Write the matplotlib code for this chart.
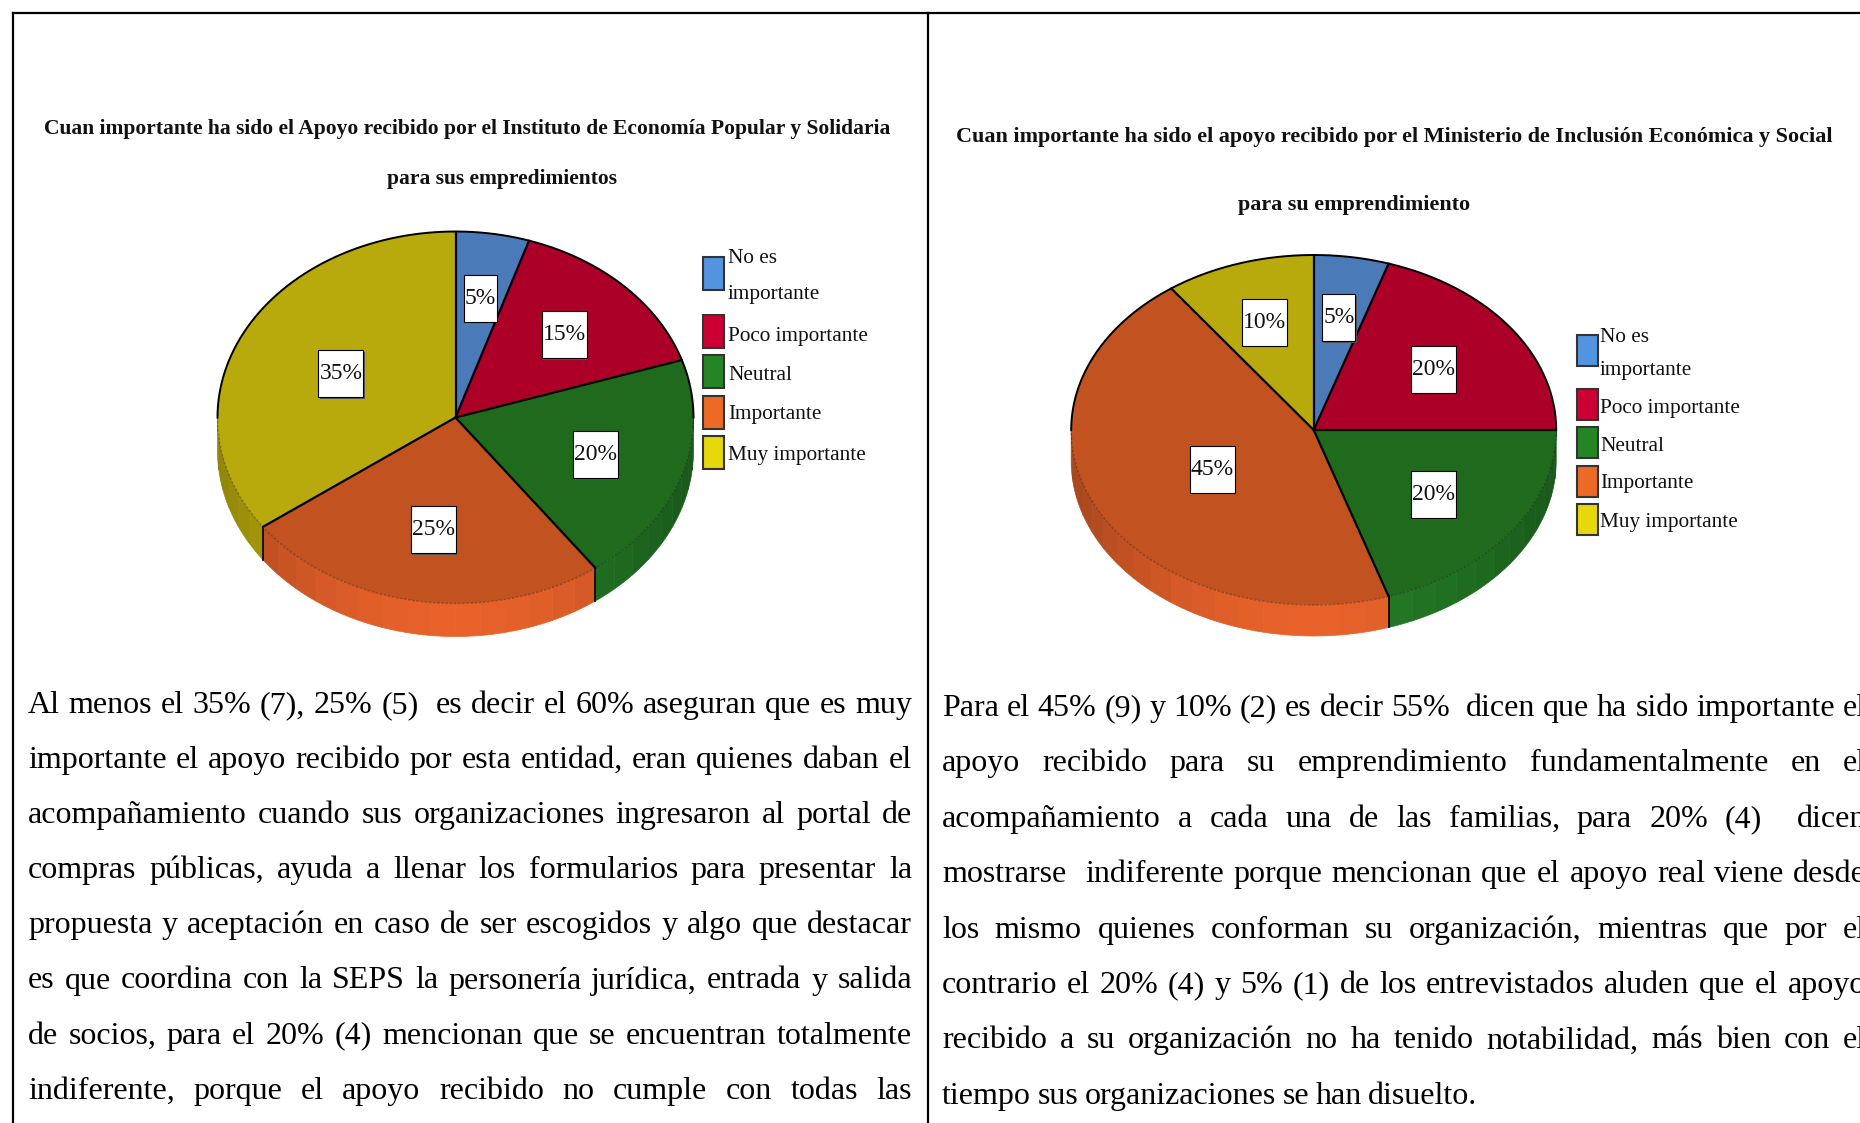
import numpy as np
import matplotlib
matplotlib.use('Agg')
import matplotlib.pyplot as plt
from matplotlib.patches import Rectangle, Polygon

W, H = 1860, 1123

categories = ['No es\nimportante', 'Poco importante', 'Neutral', 'Importante', 'Muy importante']
values_left = [5, 15, 20, 25, 35]
values_right = [5, 20, 20, 45, 10]

title_left = ['Cuan importante ha sido el Apoyo recibido por el Instituto de Economía Popular y Solidaria',
              'para sus empredimientos']
title_right = ['Cuan importante ha sido el apoyo recibido por el Ministerio de Inclusión Económica y Social',
               'para su emprendimiento']

text_left = ['Al menos el 35% (7), 25% (5)  es decir el 60% aseguran que es muy',
             'importante el apoyo recibido por esta entidad, eran quienes daban el',
             'acompañamiento cuando sus organizaciones ingresaron al portal de',
             'compras públicas, ayuda a llenar los formularios para presentar la',
             'propuesta y aceptación en caso de ser escogidos y algo que destacar',
             'es que coordina con la SEPS la personería jurídica, entrada y salida',
             'de socios, para el 20% (4) mencionan que se encuentran totalmente',
             'indiferente, porque el apoyo recibido no cumple con todas las']
text_right = ['Para el 45% (9) y 10% (2) es decir 55%  dicen que ha sido importante el',
              'apoyo recibido para su emprendimiento fundamentalmente en el',
              'acompañamiento a cada una de las familias, para 20% (4)  dicen',
              'mostrarse  indiferente porque mencionan que el apoyo real viene desde',
              'los mismo quienes conforman su organización, mientras que por el',
              'contrario el 20% (4) y 5% (1) de los entrevistados aluden que el apoyo',
              'recibido a su organización no ha tenido notabilidad, más bien con el',
              'tiempo sus organizaciones se han disuelto.']

face_colors = ['#4a7ab8', '#ad0028', '#206a1e', '#c25220', '#b8a90c']
swatch_colors = ['#5294e0', '#cc0033', '#258525', '#ec6a26', '#e6d80a']
side_colors = ['#4a7ab8', '#ad0028', '#237a25', '#e8622a', '#c8b80c']

SERIF = 'Liberation Serif'


def draw_pie(fig, ax_main, values, label_radius, cx, cy, rx, ry, depth):
    ax = fig.add_axes([(cx - 1.25 * rx) / W, 1 - (cy + 1.5 * ry) / H, 2.5 * rx / W, 2.75 * ry / H])
    ax.patch.set_visible(False)
    d = depth / ry
    bounds = np.cumsum([0] + values) * 3.6

    # side wall, cut in strips so the light can change round the rim
    for i in range(len(values)):
        t0, t1 = max(bounds[i], 90), min(bounds[i + 1], 270)
        if t1 <= t0:
            continue
        edges = np.arange(t0, t1, 6).tolist() + [t1]
        for a, b in zip(edges[:-1], edges[1:]):
            tt = np.radians(np.linspace(a, b, 5))
            f = 0.72 + 0.28 * np.cos(np.radians((a + b) / 2 - 180)) ** 2
            rgb = np.array(matplotlib.colors.to_rgb(side_colors[i])) * f
            xs = np.sin(tt)
            ys = np.cos(tt)
            pts = np.r_[np.c_[xs, ys], np.c_[xs[::-1], ys[::-1] - d]]
            ax.add_patch(Polygon(pts, closed=True, fc=rgb, ec=rgb, lw=0.5, zorder=0.5))

    wedges, _, autotexts = ax.pie(values, colors=face_colors, startangle=90, counterclock=False,
                                  autopct=lambda p: f'{round(p)}%', pctdistance=0.66,
                                  wedgeprops={'edgecolor': 'none', 'linewidth': 0},
                                  textprops={'family': SERIF, 'fontsize': 17, 'color': '#111111'})
    ax.set_aspect('auto')
    ax.set_xlim(-1.25, 1.25)
    ax.set_ylim(-1.5, 1.25)

    # rim of the top face: black above, faint below
    t = np.radians(np.linspace(-90, 90, 200))
    ax.plot(np.sin(t), np.cos(t), color='black', lw=1.4, zorder=2)
    t = np.radians(np.linspace(90, 270, 200))
    ax.plot(np.sin(t), np.cos(t), color='#000000', alpha=0.25, lw=1, ls=(0, (2, 1)), zorder=2)

    for b in bounds[:-1]:
        s, c = np.sin(np.radians(b)), np.cos(np.radians(b))
        ax.plot([0, s], [0, c], color='black', lw=1.6, zorder=2, solid_capstyle='round')
        if c < 0:
            ax.plot([s, s], [c, c - d], color='black', lw=1.2, zorder=2)

    # the value boxes sit closer to the centre on the large slices
    for i, (txt, v) in enumerate(zip(autotexts, values)):
        mid = np.radians((bounds[i] + bounds[i + 1]) / 2)
        txt.set_position((label_radius[i] * np.sin(mid), label_radius[i] * np.cos(mid) - 2 / ry))
        px = ax_main.transData.inverted().transform(ax.transData.transform(txt.get_position()))
        bw = 33 if v < 10 else 45
        bh = 47
        ax.add_patch(Rectangle((px[0] - bw / 2 + 1.5, px[1] - bh / 2 + 1.5), bw, bh, fc='#555555', ec='none',
                               transform=ax_main.transData, zorder=2.4))
        ax.add_patch(Rectangle((px[0] - bw / 2, px[1] - bh / 2), bw, bh, fc='white', ec='black', lw=0.8,
                               transform=ax_main.transData, zorder=2.5))
        txt.set_zorder(3)


def draw_legend(ax_main, sw_x, text_x, sw_centers, sw_h, text_ys):
    for c, y in zip(swatch_colors, sw_centers):
        ax_main.add_patch(Rectangle((sw_x, y - sw_h / 2), 21, sw_h, fc=c, ec='#333333', lw=1.5))
    lines = [part for label in categories for part in label.split('\n')]
    for line, y in zip(lines, text_ys):
        ax_main.text(text_x, y + 6, line, family=SERIF, fontsize=15.3, color='#111111', va='baseline')


def draw_paragraph(fig, ax_main, lines, x0, x1, y0, pitch, last_natural):
    rend = fig.canvas.get_renderer()
    space = 6.5
    for n, line in enumerate(lines):
        tokens = line.split(' ')
        words = [w for w in tokens if w]
        # a double blank in the source counts as two gaps
        gaps_after = []
        for tok in tokens:
            if tok:
                gaps_after.append(1)
            else:
                gaps_after[-1] += 1
        gaps_after[-1] = 0
        txts = [ax_main.text(x0, y0 + n * pitch, w, family=SERIF, fontsize=23, color='black', va='baseline')
                for w in words]
        widths = [t.get_window_extent(rend).width for t in txts]
        if n == len(lines) - 1 and last_natural:
            gap = space
        else:
            gap = (x1 - x0 - sum(widths)) / sum(gaps_after)
        x = x0
        for t, w, g in zip(txts, widths, gaps_after):
            t.set_x(x)
            x += w + g * gap


fig = plt.figure(figsize=(W / 100, H / 100), dpi=100, facecolor='white')
ax_main = fig.add_axes([0, 0, 1, 1])
ax_main.set_xlim(0, W)
ax_main.set_ylim(H, 0)
ax_main.axis('off')

# table rules
ax_main.plot([13, W], [13, 13], color='black', lw=1.6)
ax_main.plot([13, 13], [13, H], color='black', lw=1.6)
ax_main.plot([928, 928], [13, H], color='black', lw=1.6)

title_style = dict(family=SERIF, fontweight='bold', ha='center', va='center', color='#111111')
ax_main.text(467, 129, title_left[0], fontsize=15.5, **title_style)
ax_main.text(502, 179, title_left[1], fontsize=15.5, **title_style)
ax_main.text(1394, 137, title_right[0], fontsize=15.9, **title_style)
ax_main.text(1354, 205, title_right[1], fontsize=15.9, **title_style)

draw_legend(ax_main, 703, 728, [273, 331, 371, 412, 452], 33, [257, 293, 334.5, 373.6, 413, 454])
draw_legend(ax_main, 1577, 1600, [350, 404.5, 442.5, 481.6, 519.6], 31, [336, 369, 407, 445, 481.6, 521])

draw_pie(fig, ax_main, values_left, [0.66, 0.645, 0.617, 0.6, 0.54], 455.5, 417.5, 238, 186, 33)
draw_pie(fig, ax_main, values_right, [0.66, 0.61, 0.61, 0.47, 0.66], 1313.7, 430, 242.5, 175, 31)

draw_paragraph(fig, ax_main, text_left, 28, 912, 713, 55.1, False)
draw_paragraph(fig, ax_main, text_right, 942, 1866, 716, 55.4, True)

fig.savefig('out.png', dpi=100)
plt.close('all')
